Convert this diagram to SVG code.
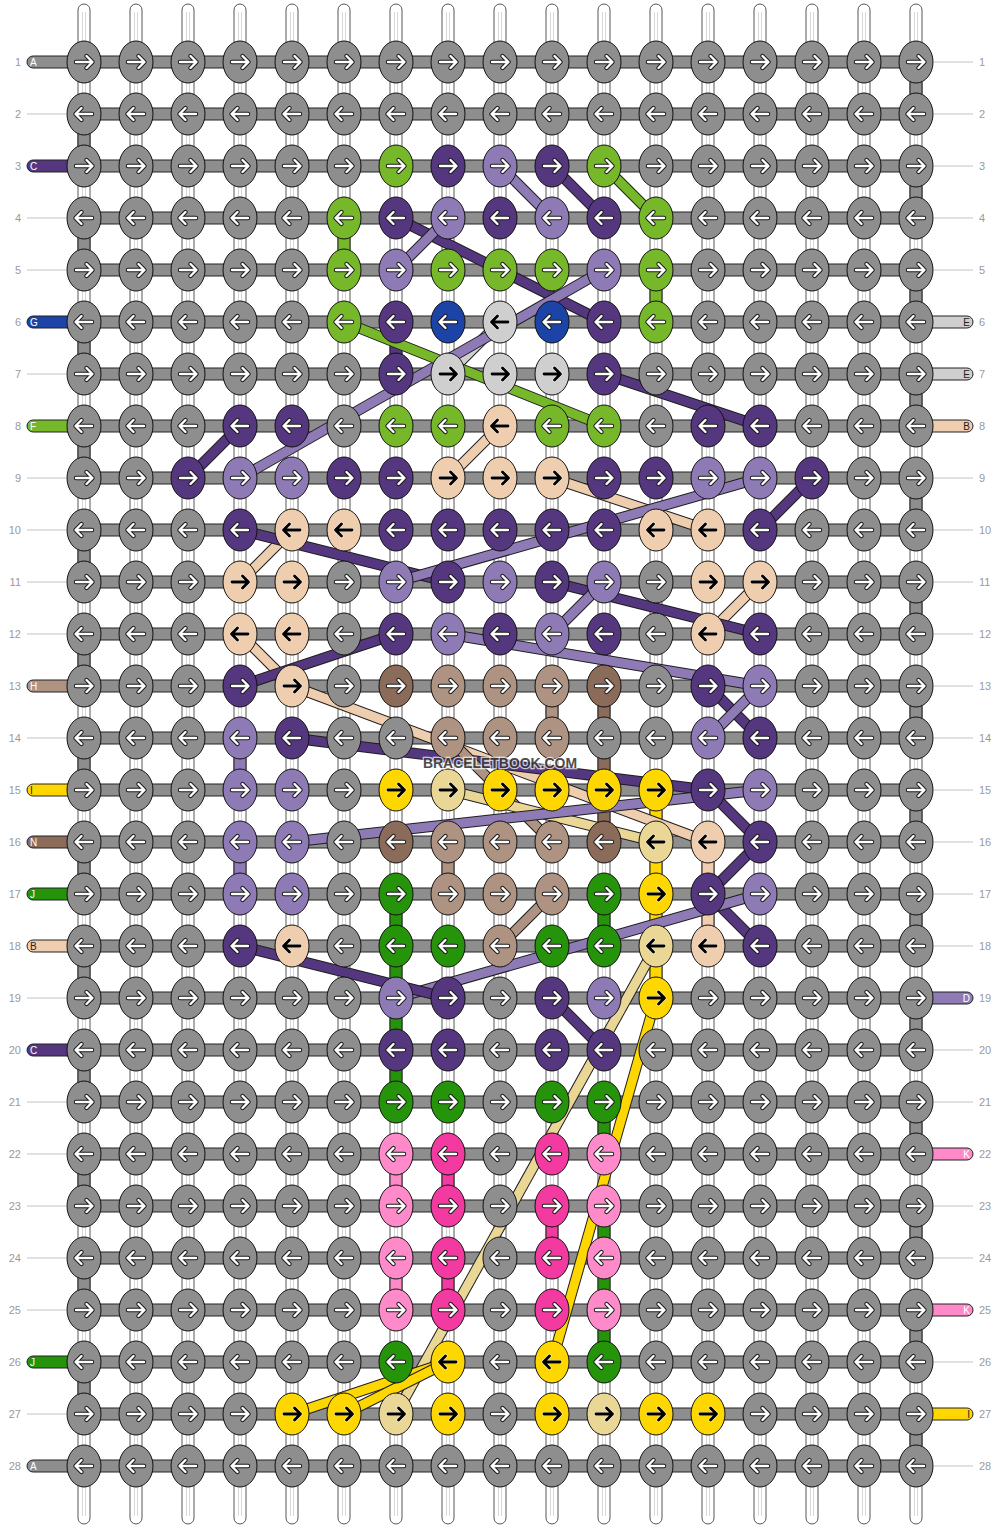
<svg xmlns="http://www.w3.org/2000/svg" xmlns:xlink="http://www.w3.org/1999/xlink" width="1000" height="1528" viewBox="0 0 1000 1528">
<style>
.g{fill:#8e8e8e}.P{fill:#553780}.L{fill:#8e7bb6}.G{fill:#77b82a}.B{fill:#1c43a6}.W{fill:#cfcfcf}.K{fill:#efcdaf}.T{fill:#ae9382}.N{fill:#8b6b59}.Y{fill:#ffd700}.Q{fill:#ead795}.J{fill:#26940a}.I{fill:#ff8ac9}.H{fill:#f23aa1}
.sk{stroke:#222;stroke-width:1}
.warp{fill:#fff;stroke:#444;stroke-width:0.9}
.hb{fill:#8e8e8e;stroke:#222;stroke-width:1}
.o{stroke:#1e1e1e;stroke-width:11}
.f{stroke-width:9}
.lP{stroke:#553780}.lL{stroke:#8e7bb6}.lG{stroke:#77b82a}.lW{stroke:#cfcfcf}.lK{stroke:#efcdaf}.lT{stroke:#ae9382}.lQ{stroke:#ead795}.lY{stroke:#ffd700}
.num{font-family:"Liberation Sans",Arial,sans-serif;font-size:11px;fill:#9a9a9a}
.let{font-family:"Liberation Sans",Arial,sans-serif;font-size:10px}
.thin{stroke:#c4c4c4;stroke-width:1}
</style>
<defs>
<ellipse id="e" rx="17" ry="21" stroke="#111" stroke-width="1"/>
<path id="ar" d="M-8,0H8M2.5,-6L8.5,0L2.5,6" fill="none" stroke-linecap="round" stroke-linejoin="round"/>
<path id="al" d="M8,0H-8M-2.5,-6L-8.5,0L-2.5,6" fill="none" stroke-linecap="round" stroke-linejoin="round"/>
<g id="rw"><use href="#ar" stroke="#1a1a1a" stroke-width="4.4"/><use href="#ar" stroke="#fff" stroke-width="2.4"/></g>
<g id="lw"><use href="#al" stroke="#1a1a1a" stroke-width="4.4"/><use href="#al" stroke="#fff" stroke-width="2.4"/></g>
<g id="rb"><use href="#ar" stroke="#fff" stroke-width="4.2" opacity="0.6"/><use href="#ar" stroke="#000" stroke-width="2.8"/></g>
<g id="lb"><use href="#al" stroke="#fff" stroke-width="4.2" opacity="0.6"/><use href="#al" stroke="#000" stroke-width="2.8"/></g>
<g id="gR"><use href="#e" class="g"/><use href="#rw"/></g><g id="gL"><use href="#e" class="g"/><use href="#lw"/></g>
<g id="PR"><use href="#e" class="P"/><use href="#rw"/></g><g id="PL"><use href="#e" class="P"/><use href="#lw"/></g>
<g id="LR"><use href="#e" class="L"/><use href="#rw"/></g><g id="LL"><use href="#e" class="L"/><use href="#lw"/></g>
<g id="GR"><use href="#e" class="G"/><use href="#rw"/></g><g id="GL"><use href="#e" class="G"/><use href="#lw"/></g>
<g id="BL"><use href="#e" class="B"/><use href="#lw"/></g>
<g id="WR"><use href="#e" class="W"/><use href="#rb"/></g><g id="WL"><use href="#e" class="W"/><use href="#lb"/></g>
<g id="KR"><use href="#e" class="K"/><use href="#rb"/></g><g id="KL"><use href="#e" class="K"/><use href="#lb"/></g>
<g id="TR"><use href="#e" class="T"/><use href="#rw"/></g><g id="TL"><use href="#e" class="T"/><use href="#lw"/></g>
<g id="NR"><use href="#e" class="N"/><use href="#rw"/></g><g id="NL"><use href="#e" class="N"/><use href="#lw"/></g>
<g id="YR"><use href="#e" class="Y"/><use href="#rb"/></g><g id="YL"><use href="#e" class="Y"/><use href="#lb"/></g>
<g id="QR"><use href="#e" class="Q"/><use href="#rb"/></g><g id="QL"><use href="#e" class="Q"/><use href="#lb"/></g>
<g id="JR"><use href="#e" class="J"/><use href="#rw"/></g><g id="JL"><use href="#e" class="J"/><use href="#lw"/></g>
<g id="IR"><use href="#e" class="I"/><use href="#rw"/></g><g id="IL"><use href="#e" class="I"/><use href="#lw"/></g>
<g id="HR"><use href="#e" class="H"/><use href="#rw"/></g><g id="HL"><use href="#e" class="H"/><use href="#lw"/></g>
</defs>
<rect width="1000" height="1528" fill="#fff"/>
<g id="warps">
<rect class="warp" x="78" y="4" width="12" height="1520" rx="6"/><rect class="warp" x="130" y="4" width="12" height="1520" rx="6"/><rect class="warp" x="182" y="4" width="12" height="1520" rx="6"/><rect class="warp" x="234" y="4" width="12" height="1520" rx="6"/><rect class="warp" x="286" y="4" width="12" height="1520" rx="6"/><rect class="warp" x="338" y="4" width="12" height="1520" rx="6"/><rect class="warp" x="390" y="4" width="12" height="1520" rx="6"/><rect class="warp" x="442" y="4" width="12" height="1520" rx="6"/><rect class="warp" x="494" y="4" width="12" height="1520" rx="6"/><rect class="warp" x="546" y="4" width="12" height="1520" rx="6"/><rect class="warp" x="598" y="4" width="12" height="1520" rx="6"/><rect class="warp" x="650" y="4" width="12" height="1520" rx="6"/><rect class="warp" x="702" y="4" width="12" height="1520" rx="6"/><rect class="warp" x="754" y="4" width="12" height="1520" rx="6"/><rect class="warp" x="806" y="4" width="12" height="1520" rx="6"/><rect class="warp" x="858" y="4" width="12" height="1520" rx="6"/><rect class="warp" x="910" y="4" width="12" height="1520" rx="6"/>
<path d="M82.5,12V1516M85.5,12V1516M134.5,12V1516M137.5,12V1516M186.5,12V1516M189.5,12V1516M238.5,12V1516M241.5,12V1516M290.5,12V1516M293.5,12V1516M342.5,12V1516M345.5,12V1516M394.5,12V1516M397.5,12V1516M446.5,12V1516M449.5,12V1516M498.5,12V1516M501.5,12V1516M550.5,12V1516M553.5,12V1516M602.5,12V1516M605.5,12V1516M654.5,12V1516M657.5,12V1516M706.5,12V1516M709.5,12V1516M758.5,12V1516M761.5,12V1516M810.5,12V1516M813.5,12V1516M862.5,12V1516M865.5,12V1516M914.5,12V1516M917.5,12V1516" stroke="#d6d6d6" stroke-width="1" fill="none"/>
</g>
<g id="edge-labels">
<g id="thin-lines" class="thin">
<path d="M27,114H66M27,218H66M27,270H66M27,374H66M27,478H66M27,530H66M27,582H66M27,634H66M27,738H66M27,998H66M27,1102H66M27,1154H66M27,1206H66M27,1258H66M27,1310H66M27,1414H66"/>
<path d="M934,62H973M934,114H973M934,166H973M934,218H973M934,270H973M934,478H973M934,530H973M934,582H973M934,634H973M934,686H973M934,738H973M934,790H973M934,842H973M934,894H973M934,946H973M934,1050H973M934,1102H973M934,1206H973M934,1258H973M934,1362H973M934,1466H973"/>
</g>
<g id="left-stubs" class="let">
<rect x="27" y="56" width="50" height="12" rx="6" class="g sk"/><text x="30" y="66" fill="#fff">A</text>
<rect x="27" y="160" width="50" height="12" rx="6" class="P sk"/><text x="30" y="170" fill="#fff">C</text>
<rect x="27" y="316" width="50" height="12" rx="6" class="B sk"/><text x="30" y="326" fill="#fff">G</text>
<rect x="27" y="420" width="50" height="12" rx="6" class="G sk"/><text x="30" y="430" fill="#fff">F</text>
<rect x="27" y="680" width="50" height="12" rx="6" class="T sk"/><text x="30" y="690" fill="#fff">H</text>
<rect x="27" y="784" width="50" height="12" rx="6" class="Y sk"/><text x="30" y="794" fill="#222">I</text>
<rect x="27" y="836" width="50" height="12" rx="6" class="N sk"/><text x="30" y="846" fill="#fff">N</text>
<rect x="27" y="888" width="50" height="12" rx="6" class="J sk"/><text x="30" y="898" fill="#fff">J</text>
<rect x="27" y="940" width="50" height="12" rx="6" class="K sk"/><text x="30" y="950" fill="#222">B</text>
<rect x="27" y="1044" width="50" height="12" rx="6" class="P sk"/><text x="30" y="1054" fill="#fff">C</text>
<rect x="27" y="1356" width="50" height="12" rx="6" class="J sk"/><text x="30" y="1366" fill="#fff">J</text>
<rect x="27" y="1460" width="50" height="12" rx="6" class="g sk"/><text x="30" y="1470" fill="#fff">A</text>
</g>
<g id="right-stubs" class="let" text-anchor="end">
<rect x="923" y="316" width="50" height="12" rx="6" class="W sk"/><text x="970" y="326" fill="#222">E</text>
<rect x="923" y="368" width="50" height="12" rx="6" class="W sk"/><text x="970" y="378" fill="#222">E</text>
<rect x="923" y="420" width="50" height="12" rx="6" class="K sk"/><text x="970" y="430" fill="#222">B</text>
<rect x="923" y="992" width="50" height="12" rx="6" class="L sk"/><text x="970" y="1002" fill="#fff">D</text>
<rect x="923" y="1148" width="50" height="12" rx="6" class="I sk"/><text x="970" y="1158" fill="#fff">K</text>
<rect x="923" y="1304" width="50" height="12" rx="6" class="I sk"/><text x="970" y="1314" fill="#fff">K</text>
<rect x="923" y="1408" width="50" height="12" rx="6" class="Y sk"/><text x="970" y="1418" fill="#222">I</text>
</g>
<g id="row-numbers" class="num">
<g text-anchor="end">
<text x="21" y="66">1</text><text x="21" y="118">2</text><text x="21" y="170">3</text><text x="21" y="222">4</text><text x="21" y="274">5</text><text x="21" y="326">6</text><text x="21" y="378">7</text><text x="21" y="430">8</text><text x="21" y="482">9</text><text x="21" y="534">10</text><text x="21" y="586">11</text><text x="21" y="638">12</text><text x="21" y="690">13</text><text x="21" y="742">14</text><text x="21" y="794">15</text><text x="21" y="846">16</text><text x="21" y="898">17</text><text x="21" y="950">18</text><text x="21" y="1002">19</text><text x="21" y="1054">20</text><text x="21" y="1106">21</text><text x="21" y="1158">22</text><text x="21" y="1210">23</text><text x="21" y="1262">24</text><text x="21" y="1314">25</text><text x="21" y="1366">26</text><text x="21" y="1418">27</text><text x="21" y="1470">28</text>
</g>
<g>
<text x="979" y="66">1</text><text x="979" y="118">2</text><text x="979" y="170">3</text><text x="979" y="222">4</text><text x="979" y="274">5</text><text x="979" y="326">6</text><text x="979" y="378">7</text><text x="979" y="430">8</text><text x="979" y="482">9</text><text x="979" y="534">10</text><text x="979" y="586">11</text><text x="979" y="638">12</text><text x="979" y="690">13</text><text x="979" y="742">14</text><text x="979" y="794">15</text><text x="979" y="846">16</text><text x="979" y="898">17</text><text x="979" y="950">18</text><text x="979" y="1002">19</text><text x="979" y="1054">20</text><text x="979" y="1106">21</text><text x="979" y="1158">22</text><text x="979" y="1210">23</text><text x="979" y="1262">24</text><text x="979" y="1314">25</text><text x="979" y="1366">26</text><text x="979" y="1418">27</text><text x="979" y="1470">28</text>
</g>
</g>
</g>
<g id="connectors">
<g id="rows">
<rect class="hb" x="84" y="56" width="832" height="12"/><rect class="hb" x="84" y="108" width="832" height="12"/><rect class="hb" x="84" y="160" width="832" height="12"/><rect class="hb" x="84" y="212" width="832" height="12"/><rect class="hb" x="84" y="264" width="832" height="12"/><rect class="hb" x="84" y="316" width="832" height="12"/><rect class="hb" x="84" y="368" width="832" height="12"/><rect class="hb" x="84" y="420" width="832" height="12"/><rect class="hb" x="84" y="472" width="832" height="12"/><rect class="hb" x="84" y="524" width="832" height="12"/><rect class="hb" x="84" y="576" width="832" height="12"/><rect class="hb" x="84" y="628" width="832" height="12"/><rect class="hb" x="84" y="680" width="832" height="12"/><rect class="hb" x="84" y="732" width="832" height="12"/><rect class="hb" x="84" y="784" width="832" height="12"/><rect class="hb" x="84" y="836" width="832" height="12"/><rect class="hb" x="84" y="888" width="832" height="12"/><rect class="hb" x="84" y="940" width="832" height="12"/><rect class="hb" x="84" y="992" width="832" height="12"/><rect class="hb" x="84" y="1044" width="832" height="12"/><rect class="hb" x="84" y="1096" width="832" height="12"/><rect class="hb" x="84" y="1148" width="832" height="12"/><rect class="hb" x="84" y="1200" width="832" height="12"/><rect class="hb" x="84" y="1252" width="832" height="12"/><rect class="hb" x="84" y="1304" width="832" height="12"/><rect class="hb" x="84" y="1356" width="832" height="12"/><rect class="hb" x="84" y="1408" width="832" height="12"/><rect class="hb" x="84" y="1460" width="832" height="12"/>
</g>
<g id="turns" class="g sk">
<rect x="78" y="128" width="12" height="24"/><rect x="78" y="232" width="12" height="24"/><rect x="78" y="336" width="12" height="24"/><rect x="78" y="440" width="12" height="24"/><rect x="78" y="544" width="12" height="24"/><rect x="78" y="648" width="12" height="24"/><rect x="78" y="752" width="12" height="24"/><rect x="78" y="856" width="12" height="24"/><rect x="78" y="960" width="12" height="24"/><rect x="78" y="1064" width="12" height="24"/><rect x="78" y="1168" width="12" height="24"/><rect x="78" y="1272" width="12" height="24"/><rect x="78" y="1376" width="12" height="24"/>
<rect x="910" y="76" width="12" height="24"/><rect x="910" y="180" width="12" height="24"/><rect x="910" y="284" width="12" height="24"/><rect x="910" y="388" width="12" height="24"/><rect x="910" y="492" width="12" height="24"/><rect x="910" y="596" width="12" height="24"/><rect x="910" y="700" width="12" height="24"/><rect x="910" y="804" width="12" height="24"/><rect x="910" y="908" width="12" height="24"/><rect x="910" y="1012" width="12" height="24"/><rect x="910" y="1116" width="12" height="24"/><rect x="910" y="1220" width="12" height="24"/><rect x="910" y="1324" width="12" height="24"/><rect x="910" y="1428" width="12" height="24"/>
</g>
<g id="verticals" class="sk">
<rect x="338" y="232" width="12" height="24" class="G"/>
<rect x="650" y="284" width="12" height="24" class="G"/>
<rect x="390" y="336" width="12" height="24" class="P"/>
<rect x="234" y="752" width="12" height="24" class="L"/>
<rect x="234" y="856" width="12" height="24" class="L"/>
<rect x="598" y="700" width="12" height="24" class="N"/>
<rect x="598" y="752" width="12" height="24" class="N"/>
<rect x="598" y="804" width="12" height="24" class="N"/>
<rect x="546" y="700" width="12" height="24" class="T"/>
<rect x="442" y="856" width="12" height="24" class="T"/>
<rect x="650" y="804" width="12" height="24" class="Y"/>
<rect x="650" y="856" width="12" height="24" class="Y"/>
<rect x="650" y="908" width="12" height="24" class="Y"/>
<rect x="650" y="960" width="12" height="24" class="Y"/>
<rect x="702" y="856" width="12" height="24" class="K"/>
<rect x="702" y="908" width="12" height="24" class="K"/>
<rect x="390" y="908" width="12" height="24" class="J"/>
<rect x="390" y="960" width="12" height="24" class="J"/>
<rect x="390" y="1012" width="12" height="24" class="J"/>
<rect x="390" y="1064" width="12" height="24" class="J"/>
<rect x="598" y="908" width="12" height="24" class="J"/>
<rect x="390" y="1168" width="12" height="24" class="I"/>
<rect x="390" y="1272" width="12" height="24" class="I"/>
<rect x="442" y="1168" width="12" height="24" class="H"/>
<rect x="442" y="1272" width="12" height="24" class="H"/>
<rect x="546" y="1220" width="12" height="24" class="H"/>
<rect x="598" y="1116" width="12" height="24" class="J"/>
<rect x="598" y="1220" width="12" height="24" class="J"/>
<rect x="598" y="1272" width="12" height="24" class="J"/>
<rect x="598" y="1324" width="12" height="24" class="J"/>
</g>
<g id="diagonals">
<line class="o" x1="500" y1="166" x2="552" y2="218"/><line class="f lL" x1="500" y1="166" x2="552" y2="218"/>
<line class="o" x1="552" y1="166" x2="604" y2="218"/><line class="f lP" x1="552" y1="166" x2="604" y2="218"/>
<line class="o" x1="604" y1="166" x2="656" y2="218"/><line class="f lG" x1="604" y1="166" x2="656" y2="218"/>
<line class="o" x1="396" y1="218" x2="604" y2="322"/><line class="f lP" x1="396" y1="218" x2="604" y2="322"/>
<line class="o" x1="448" y1="218" x2="396" y2="270"/><line class="f lL" x1="448" y1="218" x2="396" y2="270"/>
<line class="o" x1="500" y1="322" x2="448" y2="374"/><line class="f lW" x1="500" y1="322" x2="448" y2="374"/>
<line class="o" x1="240" y1="478" x2="604" y2="270"/><line class="f lL" x1="240" y1="478" x2="604" y2="270"/>
<line class="o" x1="344" y1="322" x2="604" y2="426"/><line class="f lG" x1="344" y1="322" x2="604" y2="426"/>
<line class="o" x1="604" y1="374" x2="760" y2="426"/><line class="f lP" x1="604" y1="374" x2="760" y2="426"/>
<line class="o" x1="188" y1="478" x2="240" y2="426"/><line class="f lP" x1="188" y1="478" x2="240" y2="426"/>
<line class="o" x1="500" y1="426" x2="448" y2="478"/><line class="f lK" x1="500" y1="426" x2="448" y2="478"/>
<line class="o" x1="552" y1="478" x2="708" y2="530"/><line class="f lK" x1="552" y1="478" x2="708" y2="530"/>
<line class="o" x1="812" y1="478" x2="760" y2="530"/><line class="f lP" x1="812" y1="478" x2="760" y2="530"/>
<line class="o" x1="292" y1="530" x2="240" y2="582"/><line class="f lK" x1="292" y1="530" x2="240" y2="582"/>
<line class="o" x1="240" y1="530" x2="448" y2="582"/><line class="f lP" x1="240" y1="530" x2="448" y2="582"/>
<line class="o" x1="396" y1="582" x2="760" y2="478"/><line class="f lL" x1="396" y1="582" x2="760" y2="478"/>
<line class="o" x1="760" y1="582" x2="708" y2="634"/><line class="f lK" x1="760" y1="582" x2="708" y2="634"/>
<line class="o" x1="552" y1="582" x2="760" y2="634"/><line class="f lP" x1="552" y1="582" x2="760" y2="634"/>
<line class="o" x1="604" y1="582" x2="552" y2="634"/><line class="f lL" x1="604" y1="582" x2="552" y2="634"/>
<line class="o" x1="240" y1="634" x2="292" y2="686"/><line class="f lK" x1="240" y1="634" x2="292" y2="686"/>
<line class="o" x1="240" y1="686" x2="396" y2="634"/><line class="f lP" x1="240" y1="686" x2="396" y2="634"/>
<line class="o" x1="448" y1="634" x2="760" y2="686"/><line class="f lL" x1="448" y1="634" x2="760" y2="686"/>
<line class="o" x1="708" y1="686" x2="760" y2="738"/><line class="f lP" x1="708" y1="686" x2="760" y2="738"/>
<line class="o" x1="760" y1="686" x2="708" y2="738"/><line class="f lL" x1="760" y1="686" x2="708" y2="738"/>
<line class="o" x1="292" y1="686" x2="708" y2="842"/><line class="f lK" x1="292" y1="686" x2="708" y2="842"/>
<line class="o" x1="292" y1="738" x2="708" y2="790"/><line class="f lP" x1="292" y1="738" x2="708" y2="790"/>
<line class="o" x1="448" y1="738" x2="552" y2="842"/><line class="f lT" x1="448" y1="738" x2="552" y2="842"/>
<line class="o" x1="448" y1="790" x2="656" y2="842"/><line class="f lQ" x1="448" y1="790" x2="656" y2="842"/>
<line class="o" x1="292" y1="842" x2="760" y2="790"/><line class="f lL" x1="292" y1="842" x2="760" y2="790"/>
<line class="o" x1="708" y1="790" x2="760" y2="842"/><line class="f lP" x1="708" y1="790" x2="760" y2="842"/>
<line class="o" x1="760" y1="842" x2="708" y2="894"/><line class="f lP" x1="760" y1="842" x2="708" y2="894"/>
<line class="o" x1="708" y1="894" x2="760" y2="946"/><line class="f lP" x1="708" y1="894" x2="760" y2="946"/>
<line class="o" x1="500" y1="946" x2="552" y2="894"/><line class="f lT" x1="500" y1="946" x2="552" y2="894"/>
<line class="o" x1="396" y1="998" x2="760" y2="894"/><line class="f lL" x1="396" y1="998" x2="760" y2="894"/>
<line class="o" x1="240" y1="946" x2="448" y2="998"/><line class="f lP" x1="240" y1="946" x2="448" y2="998"/>
<line class="o" x1="552" y1="998" x2="604" y2="1050"/><line class="f lP" x1="552" y1="998" x2="604" y2="1050"/>
<line class="o" x1="656" y1="946" x2="396" y2="1414"/><line class="f lQ" x1="656" y1="946" x2="396" y2="1414"/>
<line class="o" x1="656" y1="998" x2="552" y2="1362"/><line class="f lY" x1="656" y1="998" x2="552" y2="1362"/>
<line class="o" x1="448" y1="1362" x2="292" y2="1414"/><line class="f lY" x1="448" y1="1362" x2="292" y2="1414"/>
<line class="o" x1="448" y1="1362" x2="344" y2="1414"/><line class="f lY" x1="448" y1="1362" x2="344" y2="1414"/>
</g>
</g>
<g id="knots">
<g id="row1" transform="translate(0,62)"><g id="k1_1"><use href="#gR" x="84"/></g><g id="k1_2"><use href="#gR" x="136"/></g><g id="k1_3"><use href="#gR" x="188"/></g><g id="k1_4"><use href="#gR" x="240"/></g><g id="k1_5"><use href="#gR" x="292"/></g><g id="k1_6"><use href="#gR" x="344"/></g><g id="k1_7"><use href="#gR" x="396"/></g><g id="k1_8"><use href="#gR" x="448"/></g><g id="k1_9"><use href="#gR" x="500"/></g><g id="k1_10"><use href="#gR" x="552"/></g><g id="k1_11"><use href="#gR" x="604"/></g><g id="k1_12"><use href="#gR" x="656"/></g><g id="k1_13"><use href="#gR" x="708"/></g><g id="k1_14"><use href="#gR" x="760"/></g><g id="k1_15"><use href="#gR" x="812"/></g><g id="k1_16"><use href="#gR" x="864"/></g><g id="k1_17"><use href="#gR" x="916"/></g></g>
<g id="row2" transform="translate(0,114)"><g id="k2_1"><use href="#gL" x="84"/></g><g id="k2_2"><use href="#gL" x="136"/></g><g id="k2_3"><use href="#gL" x="188"/></g><g id="k2_4"><use href="#gL" x="240"/></g><g id="k2_5"><use href="#gL" x="292"/></g><g id="k2_6"><use href="#gL" x="344"/></g><g id="k2_7"><use href="#gL" x="396"/></g><g id="k2_8"><use href="#gL" x="448"/></g><g id="k2_9"><use href="#gL" x="500"/></g><g id="k2_10"><use href="#gL" x="552"/></g><g id="k2_11"><use href="#gL" x="604"/></g><g id="k2_12"><use href="#gL" x="656"/></g><g id="k2_13"><use href="#gL" x="708"/></g><g id="k2_14"><use href="#gL" x="760"/></g><g id="k2_15"><use href="#gL" x="812"/></g><g id="k2_16"><use href="#gL" x="864"/></g><g id="k2_17"><use href="#gL" x="916"/></g></g>
<g id="row3" transform="translate(0,166)"><g id="k3_1"><use href="#gR" x="84"/></g><g id="k3_2"><use href="#gR" x="136"/></g><g id="k3_3"><use href="#gR" x="188"/></g><g id="k3_4"><use href="#gR" x="240"/></g><g id="k3_5"><use href="#gR" x="292"/></g><g id="k3_6"><use href="#gR" x="344"/></g><g id="k3_7"><use href="#GR" x="396"/></g><g id="k3_8"><use href="#PR" x="448"/></g><g id="k3_9"><use href="#LR" x="500"/></g><g id="k3_10"><use href="#PR" x="552"/></g><g id="k3_11"><use href="#GR" x="604"/></g><g id="k3_12"><use href="#gR" x="656"/></g><g id="k3_13"><use href="#gR" x="708"/></g><g id="k3_14"><use href="#gR" x="760"/></g><g id="k3_15"><use href="#gR" x="812"/></g><g id="k3_16"><use href="#gR" x="864"/></g><g id="k3_17"><use href="#gR" x="916"/></g></g>
<g id="row4" transform="translate(0,218)"><g id="k4_1"><use href="#gL" x="84"/></g><g id="k4_2"><use href="#gL" x="136"/></g><g id="k4_3"><use href="#gL" x="188"/></g><g id="k4_4"><use href="#gL" x="240"/></g><g id="k4_5"><use href="#gL" x="292"/></g><g id="k4_6"><use href="#GL" x="344"/></g><g id="k4_7"><use href="#PL" x="396"/></g><g id="k4_8"><use href="#LL" x="448"/></g><g id="k4_9"><use href="#PL" x="500"/></g><g id="k4_10"><use href="#LL" x="552"/></g><g id="k4_11"><use href="#PL" x="604"/></g><g id="k4_12"><use href="#GL" x="656"/></g><g id="k4_13"><use href="#gL" x="708"/></g><g id="k4_14"><use href="#gL" x="760"/></g><g id="k4_15"><use href="#gL" x="812"/></g><g id="k4_16"><use href="#gL" x="864"/></g><g id="k4_17"><use href="#gL" x="916"/></g></g>
<g id="row5" transform="translate(0,270)"><g id="k5_1"><use href="#gR" x="84"/></g><g id="k5_2"><use href="#gR" x="136"/></g><g id="k5_3"><use href="#gR" x="188"/></g><g id="k5_4"><use href="#gR" x="240"/></g><g id="k5_5"><use href="#gR" x="292"/></g><g id="k5_6"><use href="#GR" x="344"/></g><g id="k5_7"><use href="#LR" x="396"/></g><g id="k5_8"><use href="#GR" x="448"/></g><g id="k5_9"><use href="#GR" x="500"/></g><g id="k5_10"><use href="#GR" x="552"/></g><g id="k5_11"><use href="#LR" x="604"/></g><g id="k5_12"><use href="#GR" x="656"/></g><g id="k5_13"><use href="#gR" x="708"/></g><g id="k5_14"><use href="#gR" x="760"/></g><g id="k5_15"><use href="#gR" x="812"/></g><g id="k5_16"><use href="#gR" x="864"/></g><g id="k5_17"><use href="#gR" x="916"/></g></g>
<g id="row6" transform="translate(0,322)"><g id="k6_1"><use href="#gL" x="84"/></g><g id="k6_2"><use href="#gL" x="136"/></g><g id="k6_3"><use href="#gL" x="188"/></g><g id="k6_4"><use href="#gL" x="240"/></g><g id="k6_5"><use href="#gL" x="292"/></g><g id="k6_6"><use href="#GL" x="344"/></g><g id="k6_7"><use href="#PL" x="396"/></g><g id="k6_8"><use href="#BL" x="448"/></g><g id="k6_9"><use href="#WL" x="500"/></g><g id="k6_10"><use href="#BL" x="552"/></g><g id="k6_11"><use href="#PL" x="604"/></g><g id="k6_12"><use href="#GL" x="656"/></g><g id="k6_13"><use href="#gL" x="708"/></g><g id="k6_14"><use href="#gL" x="760"/></g><g id="k6_15"><use href="#gL" x="812"/></g><g id="k6_16"><use href="#gL" x="864"/></g><g id="k6_17"><use href="#gL" x="916"/></g></g>
<g id="row7" transform="translate(0,374)"><g id="k7_1"><use href="#gR" x="84"/></g><g id="k7_2"><use href="#gR" x="136"/></g><g id="k7_3"><use href="#gR" x="188"/></g><g id="k7_4"><use href="#gR" x="240"/></g><g id="k7_5"><use href="#gR" x="292"/></g><g id="k7_6"><use href="#gR" x="344"/></g><g id="k7_7"><use href="#PR" x="396"/></g><g id="k7_8"><use href="#WR" x="448"/></g><g id="k7_9"><use href="#WR" x="500"/></g><g id="k7_10"><use href="#WR" x="552"/></g><g id="k7_11"><use href="#PR" x="604"/></g><g id="k7_12"><use href="#gR" x="656"/></g><g id="k7_13"><use href="#gR" x="708"/></g><g id="k7_14"><use href="#gR" x="760"/></g><g id="k7_15"><use href="#gR" x="812"/></g><g id="k7_16"><use href="#gR" x="864"/></g><g id="k7_17"><use href="#gR" x="916"/></g></g>
<g id="row8" transform="translate(0,426)"><g id="k8_1"><use href="#gL" x="84"/></g><g id="k8_2"><use href="#gL" x="136"/></g><g id="k8_3"><use href="#gL" x="188"/></g><g id="k8_4"><use href="#PL" x="240"/></g><g id="k8_5"><use href="#PL" x="292"/></g><g id="k8_6"><use href="#gL" x="344"/></g><g id="k8_7"><use href="#GL" x="396"/></g><g id="k8_8"><use href="#GL" x="448"/></g><g id="k8_9"><use href="#KL" x="500"/></g><g id="k8_10"><use href="#GL" x="552"/></g><g id="k8_11"><use href="#GL" x="604"/></g><g id="k8_12"><use href="#gL" x="656"/></g><g id="k8_13"><use href="#PL" x="708"/></g><g id="k8_14"><use href="#PL" x="760"/></g><g id="k8_15"><use href="#gL" x="812"/></g><g id="k8_16"><use href="#gL" x="864"/></g><g id="k8_17"><use href="#gL" x="916"/></g></g>
<g id="row9" transform="translate(0,478)"><g id="k9_1"><use href="#gR" x="84"/></g><g id="k9_2"><use href="#gR" x="136"/></g><g id="k9_3"><use href="#PR" x="188"/></g><g id="k9_4"><use href="#LR" x="240"/></g><g id="k9_5"><use href="#LR" x="292"/></g><g id="k9_6"><use href="#PR" x="344"/></g><g id="k9_7"><use href="#PR" x="396"/></g><g id="k9_8"><use href="#KR" x="448"/></g><g id="k9_9"><use href="#KR" x="500"/></g><g id="k9_10"><use href="#KR" x="552"/></g><g id="k9_11"><use href="#PR" x="604"/></g><g id="k9_12"><use href="#PR" x="656"/></g><g id="k9_13"><use href="#LR" x="708"/></g><g id="k9_14"><use href="#LR" x="760"/></g><g id="k9_15"><use href="#PR" x="812"/></g><g id="k9_16"><use href="#gR" x="864"/></g><g id="k9_17"><use href="#gR" x="916"/></g></g>
<g id="row10" transform="translate(0,530)"><g id="k10_1"><use href="#gL" x="84"/></g><g id="k10_2"><use href="#gL" x="136"/></g><g id="k10_3"><use href="#gL" x="188"/></g><g id="k10_4"><use href="#PL" x="240"/></g><g id="k10_5"><use href="#KL" x="292"/></g><g id="k10_6"><use href="#KL" x="344"/></g><g id="k10_7"><use href="#PL" x="396"/></g><g id="k10_8"><use href="#PL" x="448"/></g><g id="k10_9"><use href="#PL" x="500"/></g><g id="k10_10"><use href="#PL" x="552"/></g><g id="k10_11"><use href="#PL" x="604"/></g><g id="k10_12"><use href="#KL" x="656"/></g><g id="k10_13"><use href="#KL" x="708"/></g><g id="k10_14"><use href="#PL" x="760"/></g><g id="k10_15"><use href="#gL" x="812"/></g><g id="k10_16"><use href="#gL" x="864"/></g><g id="k10_17"><use href="#gL" x="916"/></g></g>
<g id="row11" transform="translate(0,582)"><g id="k11_1"><use href="#gR" x="84"/></g><g id="k11_2"><use href="#gR" x="136"/></g><g id="k11_3"><use href="#gR" x="188"/></g><g id="k11_4"><use href="#KR" x="240"/></g><g id="k11_5"><use href="#KR" x="292"/></g><g id="k11_6"><use href="#gR" x="344"/></g><g id="k11_7"><use href="#LR" x="396"/></g><g id="k11_8"><use href="#PR" x="448"/></g><g id="k11_9"><use href="#LR" x="500"/></g><g id="k11_10"><use href="#PR" x="552"/></g><g id="k11_11"><use href="#LR" x="604"/></g><g id="k11_12"><use href="#gR" x="656"/></g><g id="k11_13"><use href="#KR" x="708"/></g><g id="k11_14"><use href="#KR" x="760"/></g><g id="k11_15"><use href="#gR" x="812"/></g><g id="k11_16"><use href="#gR" x="864"/></g><g id="k11_17"><use href="#gR" x="916"/></g></g>
<g id="row12" transform="translate(0,634)"><g id="k12_1"><use href="#gL" x="84"/></g><g id="k12_2"><use href="#gL" x="136"/></g><g id="k12_3"><use href="#gL" x="188"/></g><g id="k12_4"><use href="#KL" x="240"/></g><g id="k12_5"><use href="#KL" x="292"/></g><g id="k12_6"><use href="#gL" x="344"/></g><g id="k12_7"><use href="#PL" x="396"/></g><g id="k12_8"><use href="#LL" x="448"/></g><g id="k12_9"><use href="#PL" x="500"/></g><g id="k12_10"><use href="#LL" x="552"/></g><g id="k12_11"><use href="#PL" x="604"/></g><g id="k12_12"><use href="#gL" x="656"/></g><g id="k12_13"><use href="#KL" x="708"/></g><g id="k12_14"><use href="#PL" x="760"/></g><g id="k12_15"><use href="#gL" x="812"/></g><g id="k12_16"><use href="#gL" x="864"/></g><g id="k12_17"><use href="#gL" x="916"/></g></g>
<g id="row13" transform="translate(0,686)"><g id="k13_1"><use href="#gR" x="84"/></g><g id="k13_2"><use href="#gR" x="136"/></g><g id="k13_3"><use href="#gR" x="188"/></g><g id="k13_4"><use href="#PR" x="240"/></g><g id="k13_5"><use href="#KR" x="292"/></g><g id="k13_6"><use href="#gR" x="344"/></g><g id="k13_7"><use href="#NR" x="396"/></g><g id="k13_8"><use href="#TR" x="448"/></g><g id="k13_9"><use href="#TR" x="500"/></g><g id="k13_10"><use href="#TR" x="552"/></g><g id="k13_11"><use href="#NR" x="604"/></g><g id="k13_12"><use href="#gR" x="656"/></g><g id="k13_13"><use href="#PR" x="708"/></g><g id="k13_14"><use href="#LR" x="760"/></g><g id="k13_15"><use href="#gR" x="812"/></g><g id="k13_16"><use href="#gR" x="864"/></g><g id="k13_17"><use href="#gR" x="916"/></g></g>
<g id="row14" transform="translate(0,738)"><g id="k14_1"><use href="#gL" x="84"/></g><g id="k14_2"><use href="#gL" x="136"/></g><g id="k14_3"><use href="#gL" x="188"/></g><g id="k14_4"><use href="#LL" x="240"/></g><g id="k14_5"><use href="#PL" x="292"/></g><g id="k14_6"><use href="#gL" x="344"/></g><g id="k14_7"><use href="#gL" x="396"/></g><g id="k14_8"><use href="#TL" x="448"/></g><g id="k14_9"><use href="#TL" x="500"/></g><g id="k14_10"><use href="#TL" x="552"/></g><g id="k14_11"><use href="#gL" x="604"/></g><g id="k14_12"><use href="#gL" x="656"/></g><g id="k14_13"><use href="#LL" x="708"/></g><g id="k14_14"><use href="#PL" x="760"/></g><g id="k14_15"><use href="#gL" x="812"/></g><g id="k14_16"><use href="#gL" x="864"/></g><g id="k14_17"><use href="#gL" x="916"/></g></g>
<g id="row15" transform="translate(0,790)"><g id="k15_1"><use href="#gR" x="84"/></g><g id="k15_2"><use href="#gR" x="136"/></g><g id="k15_3"><use href="#gR" x="188"/></g><g id="k15_4"><use href="#LR" x="240"/></g><g id="k15_5"><use href="#LR" x="292"/></g><g id="k15_6"><use href="#gR" x="344"/></g><g id="k15_7"><use href="#YR" x="396"/></g><g id="k15_8"><use href="#QR" x="448"/></g><g id="k15_9"><use href="#YR" x="500"/></g><g id="k15_10"><use href="#YR" x="552"/></g><g id="k15_11"><use href="#YR" x="604"/></g><g id="k15_12"><use href="#YR" x="656"/></g><g id="k15_13"><use href="#PR" x="708"/></g><g id="k15_14"><use href="#LR" x="760"/></g><g id="k15_15"><use href="#gR" x="812"/></g><g id="k15_16"><use href="#gR" x="864"/></g><g id="k15_17"><use href="#gR" x="916"/></g></g>
<g id="row16" transform="translate(0,842)"><g id="k16_1"><use href="#gL" x="84"/></g><g id="k16_2"><use href="#gL" x="136"/></g><g id="k16_3"><use href="#gL" x="188"/></g><g id="k16_4"><use href="#LL" x="240"/></g><g id="k16_5"><use href="#LL" x="292"/></g><g id="k16_6"><use href="#gL" x="344"/></g><g id="k16_7"><use href="#NL" x="396"/></g><g id="k16_8"><use href="#TL" x="448"/></g><g id="k16_9"><use href="#TL" x="500"/></g><g id="k16_10"><use href="#TL" x="552"/></g><g id="k16_11"><use href="#NL" x="604"/></g><g id="k16_12"><use href="#QL" x="656"/></g><g id="k16_13"><use href="#KL" x="708"/></g><g id="k16_14"><use href="#PL" x="760"/></g><g id="k16_15"><use href="#gL" x="812"/></g><g id="k16_16"><use href="#gL" x="864"/></g><g id="k16_17"><use href="#gL" x="916"/></g></g>
<g id="row17" transform="translate(0,894)"><g id="k17_1"><use href="#gR" x="84"/></g><g id="k17_2"><use href="#gR" x="136"/></g><g id="k17_3"><use href="#gR" x="188"/></g><g id="k17_4"><use href="#LR" x="240"/></g><g id="k17_5"><use href="#LR" x="292"/></g><g id="k17_6"><use href="#gR" x="344"/></g><g id="k17_7"><use href="#JR" x="396"/></g><g id="k17_8"><use href="#TR" x="448"/></g><g id="k17_9"><use href="#TR" x="500"/></g><g id="k17_10"><use href="#TR" x="552"/></g><g id="k17_11"><use href="#JR" x="604"/></g><g id="k17_12"><use href="#YR" x="656"/></g><g id="k17_13"><use href="#PR" x="708"/></g><g id="k17_14"><use href="#LR" x="760"/></g><g id="k17_15"><use href="#gR" x="812"/></g><g id="k17_16"><use href="#gR" x="864"/></g><g id="k17_17"><use href="#gR" x="916"/></g></g>
<g id="row18" transform="translate(0,946)"><g id="k18_1"><use href="#gL" x="84"/></g><g id="k18_2"><use href="#gL" x="136"/></g><g id="k18_3"><use href="#gL" x="188"/></g><g id="k18_4"><use href="#PL" x="240"/></g><g id="k18_5"><use href="#KL" x="292"/></g><g id="k18_6"><use href="#gL" x="344"/></g><g id="k18_7"><use href="#JL" x="396"/></g><g id="k18_8"><use href="#JL" x="448"/></g><g id="k18_9"><use href="#TL" x="500"/></g><g id="k18_10"><use href="#JL" x="552"/></g><g id="k18_11"><use href="#JL" x="604"/></g><g id="k18_12"><use href="#QL" x="656"/></g><g id="k18_13"><use href="#KL" x="708"/></g><g id="k18_14"><use href="#PL" x="760"/></g><g id="k18_15"><use href="#gL" x="812"/></g><g id="k18_16"><use href="#gL" x="864"/></g><g id="k18_17"><use href="#gL" x="916"/></g></g>
<g id="row19" transform="translate(0,998)"><g id="k19_1"><use href="#gR" x="84"/></g><g id="k19_2"><use href="#gR" x="136"/></g><g id="k19_3"><use href="#gR" x="188"/></g><g id="k19_4"><use href="#gR" x="240"/></g><g id="k19_5"><use href="#gR" x="292"/></g><g id="k19_6"><use href="#gR" x="344"/></g><g id="k19_7"><use href="#LR" x="396"/></g><g id="k19_8"><use href="#PR" x="448"/></g><g id="k19_9"><use href="#gR" x="500"/></g><g id="k19_10"><use href="#PR" x="552"/></g><g id="k19_11"><use href="#LR" x="604"/></g><g id="k19_12"><use href="#YR" x="656"/></g><g id="k19_13"><use href="#gR" x="708"/></g><g id="k19_14"><use href="#gR" x="760"/></g><g id="k19_15"><use href="#gR" x="812"/></g><g id="k19_16"><use href="#gR" x="864"/></g><g id="k19_17"><use href="#gR" x="916"/></g></g>
<g id="row20" transform="translate(0,1050)"><g id="k20_1"><use href="#gL" x="84"/></g><g id="k20_2"><use href="#gL" x="136"/></g><g id="k20_3"><use href="#gL" x="188"/></g><g id="k20_4"><use href="#gL" x="240"/></g><g id="k20_5"><use href="#gL" x="292"/></g><g id="k20_6"><use href="#gL" x="344"/></g><g id="k20_7"><use href="#PL" x="396"/></g><g id="k20_8"><use href="#PL" x="448"/></g><g id="k20_9"><use href="#gL" x="500"/></g><g id="k20_10"><use href="#PL" x="552"/></g><g id="k20_11"><use href="#PL" x="604"/></g><g id="k20_12"><use href="#gL" x="656"/></g><g id="k20_13"><use href="#gL" x="708"/></g><g id="k20_14"><use href="#gL" x="760"/></g><g id="k20_15"><use href="#gL" x="812"/></g><g id="k20_16"><use href="#gL" x="864"/></g><g id="k20_17"><use href="#gL" x="916"/></g></g>
<g id="row21" transform="translate(0,1102)"><g id="k21_1"><use href="#gR" x="84"/></g><g id="k21_2"><use href="#gR" x="136"/></g><g id="k21_3"><use href="#gR" x="188"/></g><g id="k21_4"><use href="#gR" x="240"/></g><g id="k21_5"><use href="#gR" x="292"/></g><g id="k21_6"><use href="#gR" x="344"/></g><g id="k21_7"><use href="#JR" x="396"/></g><g id="k21_8"><use href="#JR" x="448"/></g><g id="k21_9"><use href="#gR" x="500"/></g><g id="k21_10"><use href="#JR" x="552"/></g><g id="k21_11"><use href="#JR" x="604"/></g><g id="k21_12"><use href="#gR" x="656"/></g><g id="k21_13"><use href="#gR" x="708"/></g><g id="k21_14"><use href="#gR" x="760"/></g><g id="k21_15"><use href="#gR" x="812"/></g><g id="k21_16"><use href="#gR" x="864"/></g><g id="k21_17"><use href="#gR" x="916"/></g></g>
<g id="row22" transform="translate(0,1154)"><g id="k22_1"><use href="#gL" x="84"/></g><g id="k22_2"><use href="#gL" x="136"/></g><g id="k22_3"><use href="#gL" x="188"/></g><g id="k22_4"><use href="#gL" x="240"/></g><g id="k22_5"><use href="#gL" x="292"/></g><g id="k22_6"><use href="#gL" x="344"/></g><g id="k22_7"><use href="#IL" x="396"/></g><g id="k22_8"><use href="#HL" x="448"/></g><g id="k22_9"><use href="#gL" x="500"/></g><g id="k22_10"><use href="#HL" x="552"/></g><g id="k22_11"><use href="#IL" x="604"/></g><g id="k22_12"><use href="#gL" x="656"/></g><g id="k22_13"><use href="#gL" x="708"/></g><g id="k22_14"><use href="#gL" x="760"/></g><g id="k22_15"><use href="#gL" x="812"/></g><g id="k22_16"><use href="#gL" x="864"/></g><g id="k22_17"><use href="#gL" x="916"/></g></g>
<g id="row23" transform="translate(0,1206)"><g id="k23_1"><use href="#gR" x="84"/></g><g id="k23_2"><use href="#gR" x="136"/></g><g id="k23_3"><use href="#gR" x="188"/></g><g id="k23_4"><use href="#gR" x="240"/></g><g id="k23_5"><use href="#gR" x="292"/></g><g id="k23_6"><use href="#gR" x="344"/></g><g id="k23_7"><use href="#IR" x="396"/></g><g id="k23_8"><use href="#HR" x="448"/></g><g id="k23_9"><use href="#gR" x="500"/></g><g id="k23_10"><use href="#HR" x="552"/></g><g id="k23_11"><use href="#IR" x="604"/></g><g id="k23_12"><use href="#gR" x="656"/></g><g id="k23_13"><use href="#gR" x="708"/></g><g id="k23_14"><use href="#gR" x="760"/></g><g id="k23_15"><use href="#gR" x="812"/></g><g id="k23_16"><use href="#gR" x="864"/></g><g id="k23_17"><use href="#gR" x="916"/></g></g>
<g id="row24" transform="translate(0,1258)"><g id="k24_1"><use href="#gL" x="84"/></g><g id="k24_2"><use href="#gL" x="136"/></g><g id="k24_3"><use href="#gL" x="188"/></g><g id="k24_4"><use href="#gL" x="240"/></g><g id="k24_5"><use href="#gL" x="292"/></g><g id="k24_6"><use href="#gL" x="344"/></g><g id="k24_7"><use href="#IL" x="396"/></g><g id="k24_8"><use href="#HL" x="448"/></g><g id="k24_9"><use href="#gL" x="500"/></g><g id="k24_10"><use href="#HL" x="552"/></g><g id="k24_11"><use href="#IL" x="604"/></g><g id="k24_12"><use href="#gL" x="656"/></g><g id="k24_13"><use href="#gL" x="708"/></g><g id="k24_14"><use href="#gL" x="760"/></g><g id="k24_15"><use href="#gL" x="812"/></g><g id="k24_16"><use href="#gL" x="864"/></g><g id="k24_17"><use href="#gL" x="916"/></g></g>
<g id="row25" transform="translate(0,1310)"><g id="k25_1"><use href="#gR" x="84"/></g><g id="k25_2"><use href="#gR" x="136"/></g><g id="k25_3"><use href="#gR" x="188"/></g><g id="k25_4"><use href="#gR" x="240"/></g><g id="k25_5"><use href="#gR" x="292"/></g><g id="k25_6"><use href="#gR" x="344"/></g><g id="k25_7"><use href="#IR" x="396"/></g><g id="k25_8"><use href="#HR" x="448"/></g><g id="k25_9"><use href="#gR" x="500"/></g><g id="k25_10"><use href="#HR" x="552"/></g><g id="k25_11"><use href="#IR" x="604"/></g><g id="k25_12"><use href="#gR" x="656"/></g><g id="k25_13"><use href="#gR" x="708"/></g><g id="k25_14"><use href="#gR" x="760"/></g><g id="k25_15"><use href="#gR" x="812"/></g><g id="k25_16"><use href="#gR" x="864"/></g><g id="k25_17"><use href="#gR" x="916"/></g></g>
<g id="row26" transform="translate(0,1362)"><g id="k26_1"><use href="#gL" x="84"/></g><g id="k26_2"><use href="#gL" x="136"/></g><g id="k26_3"><use href="#gL" x="188"/></g><g id="k26_4"><use href="#gL" x="240"/></g><g id="k26_5"><use href="#gL" x="292"/></g><g id="k26_6"><use href="#gL" x="344"/></g><g id="k26_7"><use href="#JL" x="396"/></g><g id="k26_8"><use href="#YL" x="448"/></g><g id="k26_9"><use href="#gL" x="500"/></g><g id="k26_10"><use href="#YL" x="552"/></g><g id="k26_11"><use href="#JL" x="604"/></g><g id="k26_12"><use href="#gL" x="656"/></g><g id="k26_13"><use href="#gL" x="708"/></g><g id="k26_14"><use href="#gL" x="760"/></g><g id="k26_15"><use href="#gL" x="812"/></g><g id="k26_16"><use href="#gL" x="864"/></g><g id="k26_17"><use href="#gL" x="916"/></g></g>
<g id="row27" transform="translate(0,1414)"><g id="k27_1"><use href="#gR" x="84"/></g><g id="k27_2"><use href="#gR" x="136"/></g><g id="k27_3"><use href="#gR" x="188"/></g><g id="k27_4"><use href="#gR" x="240"/></g><g id="k27_5"><use href="#YR" x="292"/></g><g id="k27_6"><use href="#YR" x="344"/></g><g id="k27_7"><use href="#QR" x="396"/></g><g id="k27_8"><use href="#YR" x="448"/></g><g id="k27_9"><use href="#gR" x="500"/></g><g id="k27_10"><use href="#YR" x="552"/></g><g id="k27_11"><use href="#QR" x="604"/></g><g id="k27_12"><use href="#YR" x="656"/></g><g id="k27_13"><use href="#YR" x="708"/></g><g id="k27_14"><use href="#gR" x="760"/></g><g id="k27_15"><use href="#gR" x="812"/></g><g id="k27_16"><use href="#gR" x="864"/></g><g id="k27_17"><use href="#gR" x="916"/></g></g>
<g id="row28" transform="translate(0,1466)"><g id="k28_1"><use href="#gL" x="84"/></g><g id="k28_2"><use href="#gL" x="136"/></g><g id="k28_3"><use href="#gL" x="188"/></g><g id="k28_4"><use href="#gL" x="240"/></g><g id="k28_5"><use href="#gL" x="292"/></g><g id="k28_6"><use href="#gL" x="344"/></g><g id="k28_7"><use href="#gL" x="396"/></g><g id="k28_8"><use href="#gL" x="448"/></g><g id="k28_9"><use href="#gL" x="500"/></g><g id="k28_10"><use href="#gL" x="552"/></g><g id="k28_11"><use href="#gL" x="604"/></g><g id="k28_12"><use href="#gL" x="656"/></g><g id="k28_13"><use href="#gL" x="708"/></g><g id="k28_14"><use href="#gL" x="760"/></g><g id="k28_15"><use href="#gL" x="812"/></g><g id="k28_16"><use href="#gL" x="864"/></g><g id="k28_17"><use href="#gL" x="916"/></g></g>
</g>
<g id="watermark"><text x="500" y="768" text-anchor="middle" font-family="'Liberation Sans',Arial,sans-serif" font-weight="bold" font-size="14" textLength="154" lengthAdjust="spacingAndGlyphs" fill="#3a3a3a" stroke="#fff" stroke-width="2.5" stroke-opacity="0.8" paint-order="stroke" opacity="0.9">BRACELETBOOK.COM</text></g>
</svg>
